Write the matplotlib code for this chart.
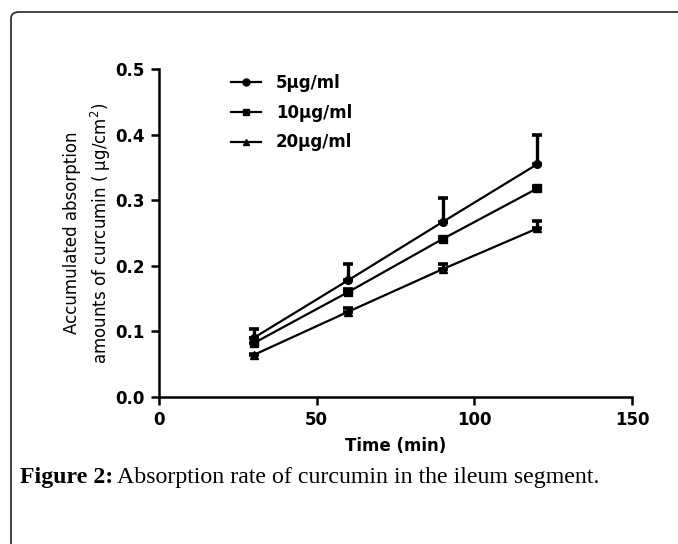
import matplotlib.pyplot as plt
from matplotlib.lines import Line2D
from matplotlib.patches import FancyBboxPatch

# data
time_min = [30, 60, 90, 120]
conc_labels = ["5\u03bcg/ml", "10\u03bcg/ml", "20\u03bcg/ml"]
mean_5 = [0.090, 0.178, 0.267, 0.355]
sd_5 = [0.014, 0.025, 0.036, 0.045]
mean_10 = [0.082, 0.160, 0.241, 0.318]
sd_10 = [0.008, 0.004, 0.003, 0.003]
mean_20 = [0.064, 0.130, 0.195, 0.257]
sd_20 = [0.002, 0.006, 0.008, 0.012]

sans = "DejaVu Sans"

fig = plt.figure(figsize=(6.78, 5.44), dpi=100)

# rounded frame around the figure (runs off right / bottom edges)
frame = FancyBboxPatch((11 / 678, -0.05), 1.2, 1 - 12 / 544 + 0.05,
                       boxstyle="round,pad=0,rounding_size=0.012",
                       transform=fig.transFigure, fill=False,
                       edgecolor="#222222", linewidth=1.2, clip_on=False)
fig.patches.append(frame)

ax = fig.add_axes([159 / 678, 1 - 397 / 544, (632 - 159) / 678, (397 - 69) / 544])

markers = ["o", "s", "^"]
series = [(mean_5, sd_5), (mean_10, sd_10), (mean_20, sd_20)]
for (m, s), mk in zip(series, markers):
    ax.errorbar(time_min, m, yerr=[[0] * len(s), s], color="black", marker=mk,
                markersize=5.5, linewidth=1.6, elinewidth=2.4, capsize=3.3,
                capthick=2.6)

ax.set_xlim(0, 150)
ax.set_ylim(0, 0.5)
ax.set_xticks([0, 50, 100, 150])
ax.set_yticks([0.0, 0.1, 0.2, 0.3, 0.4, 0.5])
ax.set_yticklabels(["0.0", "0.1", "0.2", "0.3", "0.4", "0.5"])
for sp in ["top", "right"]:
    ax.spines[sp].set_visible(False)
for sp in ["left", "bottom"]:
    ax.spines[sp].set_linewidth(1.8)
ax.tick_params(width=1.8, length=6, labelsize=12, pad=4)
for t in ax.get_xticklabels() + ax.get_yticklabels():
    t.set_fontfamily(sans)
    t.set_fontweight("semibold")

ax.set_xlabel("Time (min)", fontsize=12, fontfamily=sans, fontweight="semibold",
              labelpad=6)
ax.set_ylabel("Accumulated absorption\namounts of curcumin ( \u03bcg/cm$^2$)",
              fontsize=12, fontfamily=sans, labelpad=2, linespacing=1.4)

handles = [Line2D([], [], color="black", marker=mk, markersize=5, linewidth=1.6)
           for mk in markers]
ax.legend(handles, conc_labels, loc="upper left", bbox_to_anchor=(0.12, 1.03),
          frameon=False, handlelength=1.8,
          prop={"family": sans, "weight": "semibold", "size": 12},
          handletextpad=0.9, labelspacing=0.7)

cap_y = 1 - 477 / 544
fig.text(20 / 678, cap_y, "Figure 2:", fontfamily="Liberation Serif",
         fontweight="bold", fontsize=17.2, va="center", ha="left")
fig.text(117 / 678, cap_y,
         "Absorption rate of curcumin in the ileum segment.",
         fontfamily="Liberation Serif", fontsize=17.2, va="center", ha="left")

fig.savefig("out.png", dpi=100)
